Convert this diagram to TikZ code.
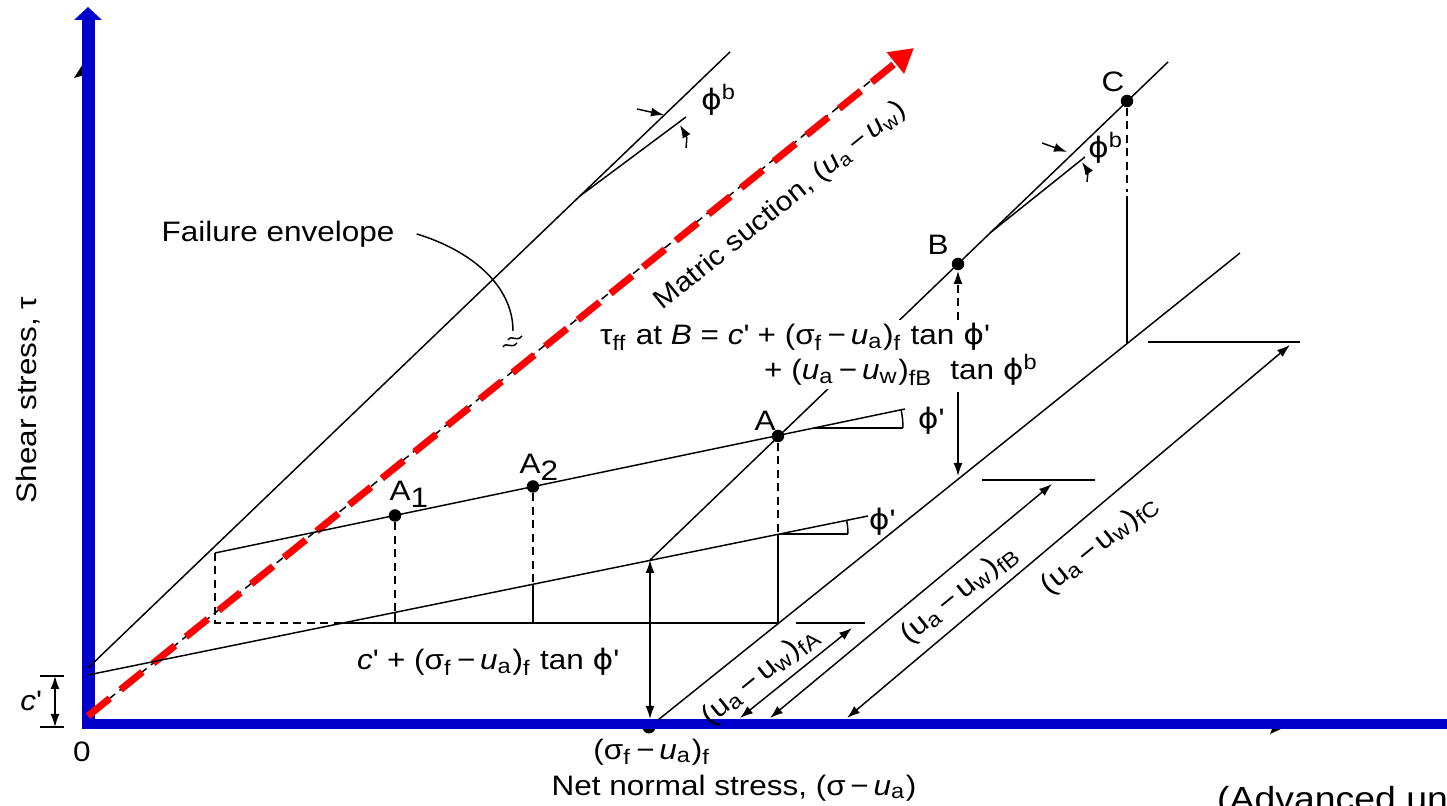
\documentclass[tikz,border=0pt]{standalone}
\usepackage{fontspec}
\setmainfont[FakeStretch=1.12]{Liberation Sans}
\newfontfamily\gk[FakeStretch=1.12]{DejaVu Sans}
\usetikzlibrary{arrows.meta}
\definecolor{axisblue}{RGB}{0,0,204}
\newcommand{\ph}{{\gk ϕ}}
\newcommand{\pr}{\textquotesingle}
\newcommand{\ua}{\textit{u}\textsubscript{a}}
\newcommand{\uw}{\textit{u}\textsubscript{w}}
\newcommand{\mn}{\,−\,}
\newcommand{\lowsub}[1]{\raisebox{-0.25em}{#1}}
\begin{document}
\begin{tikzpicture}[x=0.1mm,y=-0.1mm,
  every node/.style={font=\fontsize{8}{9.5}\selectfont,inner sep=1pt},
  ln/.style={line width=0.42pt},
  dsh/.style={line width=0.42pt,dash pattern=on 0.8mm off 0.55mm},
  dot/.style={circle,fill=black,inner sep=0pt,minimum size=1.25mm},
  tip/.style={line width=0.42pt,-{Latex[length=1.3mm,width=0.9mm]}},
  dim/.style={line width=0.42pt,{Latex[length=1.3mm,width=0.9mm]}-{Latex[length=1.3mm,width=0.9mm]}},
  axis/.style={axisblue,line width=1.3mm}]
\useasboundingbox (0,0) rectangle (1447,806);
\fill (88,56) -- (74,78) -- (88,74) -- cycle;
\fill (1292,724) -- (1270,734) -- (1274,724) -- cycle;
\node[dot,minimum size=1.3mm] (sf) at (649,727) {};
\draw[axis,-{Triangle[length=1.3mm,width=2.7mm]}] (88,729) -- (88,7);
\draw[axis,line width=1mm] (81.5,724) -- (1460,724);
\coordinate (O) at (88,716);
\draw[ln] (88,668) -- (730,52);
\draw[ln] (580,196) -- (686,117);
\draw[tip] (637,109) -- (664,115);
\draw[tip] (686,148) .. controls (687,137) .. (680,125);
\node (fe) at (278,234) {Failure envelope};
\coordinate (sq) at (513,331);
\draw[ln] ([xshift=1.8mm]fe.east) .. controls (470,250) and (513,285) .. (sq);
\draw[ln] (508,340) .. controls (512,334) and (516,343) .. (522,336);
\draw[ln] (503,347) .. controls (507,341) and (511,350) .. (517,343);
\draw[dsh,-{Latex[length=1.2mm,width=0.9mm]}] (O) -- (905,53);
\draw[red,line width=0.7mm,dash pattern=on 2.8mm off 1.4mm,-{Triangle[length=2.4mm,width=2.6mm]}] (O) -- (914,48);
\node[rotate=39,font=\fontsize{7.7}{9}\selectfont] (ms) at (781,206) {Matric suction, (\ua\mn\uw)};
\draw[ln] (88,675) -- (868,516);
\draw[ln] (780,534) -- (848,534);
\draw[ln] (848,534) arc[start angle=0,end angle=11.5,radius=6.8mm];
\draw[ln] (215,553) -- (905,409);
\draw[ln] (814,428) -- (903,428);
\draw[ln] (903,428) arc[start angle=0,end angle=11.8,radius=8.9mm];
\node[dot] (A1) at (395,515.5) {};
\node[dot] (A2) at (533,486.5) {};
\node[dot] (A) at (778,436) {};
\node[dot] (B) at (958,264) {};
\node[dot] (C) at (1127,101) {};
\draw[dsh] (215,553) -- (215,623) -- (343,623);
\draw[ln] (343,623) -- (778,623);
\draw[ln] (796,623) -- (865,623);
\draw[dsh] (A1) -- (395,612); \draw[ln] (395,612) -- (395,623);
\draw[dsh] (A2) -- (533,584); \draw[ln] (533,584) -- (533,623);
\draw[dsh] (A) -- (778,534); \draw[ln] (778,534) -- (778,623);
\draw[ln] (650,560) -- (1168,62);
\draw[ln] (990,233) -- (1085,157);
\draw[tip] (1042,143) -- (1067,152);
\draw[tip] (1087,182) .. controls (1088,171) .. (1082,162);
\draw[dim] (650,560) -- (650,719);
\draw[ln] (658,720) -- (1240,253);
\draw[ln] (982,480) -- (1095,480);
\draw[ln] (1148,342) -- (1300,342);
\draw[dsh] (C) -- (1127,192); \draw[ln] (1127,196) -- (1127,344);
\node[fill=white,anchor=west] (tff) at (596,337) {τ\textsubscript{ff} at \textit{B} = \textit{c}\pr{} + (σ\textsubscript{f}\mn\ua)\textsubscript{f} tan \ph\pr};
\node[fill=white,anchor=west] (tfb) at (760,370) {+ (\ua\mn\uw)\textsubscript{fB}\ \ tan \ph\textsuperscript{b}};
\draw[dsh,-{Latex[length=1.3mm,width=0.9mm]}] (958,320) -- (B);
\draw[tip] (958,392) -- (958,476);
\draw[dim] (740,718) -- (852,628);
\draw[dim] (770,718) -- (1052,484);
\draw[dim] (847,718) -- (1290,345);
\node[rotate=39] at (761,676) {(u\textsubscript{a}\mn u\textsubscript{w})\textsubscript{fA}};
\node[rotate=39] at (960,594) {(u\textsubscript{a}\mn u\textsubscript{w})\textsubscript{fB}};
\node[rotate=39] at (1100,545) {(u\textsubscript{a}\mn u\textsubscript{w})\textsubscript{fC}};
\node at (409,494) {A\lowsub{1}};
\node at (539,467) {A\lowsub{2}};
\node at (765,421) {A};
\node at (938,245) {B};
\node at (1113,82) {C};
\node at (931,421) {\ph\pr};
\node at (882,522) {\ph\pr};
\node at (719,100) {\ph\textsuperscript{b}};
\node at (1106,148) {\ph\textsuperscript{b}};
\node at (488,662) {\textit{c}\pr{} + (σ\textsubscript{f}\mn\ua)\textsubscript{f} tan \ph\pr};
\draw[ln] (40,676) -- (64,676);
\draw[ln] (40,727) -- (64,727);
\draw[dim] (55,676) -- (55,727);
\node at (31,701) {\textit{c}\pr};
\node at (82,752) {0};
\node at (652,752) {(σ\textsubscript{f}\mn\ua)\textsubscript{f}};
\node at (734,788) {Net normal stress, (σ\mn\ua)};
\node[rotate=90] at (28,400) {Shear stress, τ};
\node[font=\fontsize{9.5}{11}\selectfont,anchor=base west] at (1213,811) {(Advanced un};
\end{tikzpicture}
\end{document}
